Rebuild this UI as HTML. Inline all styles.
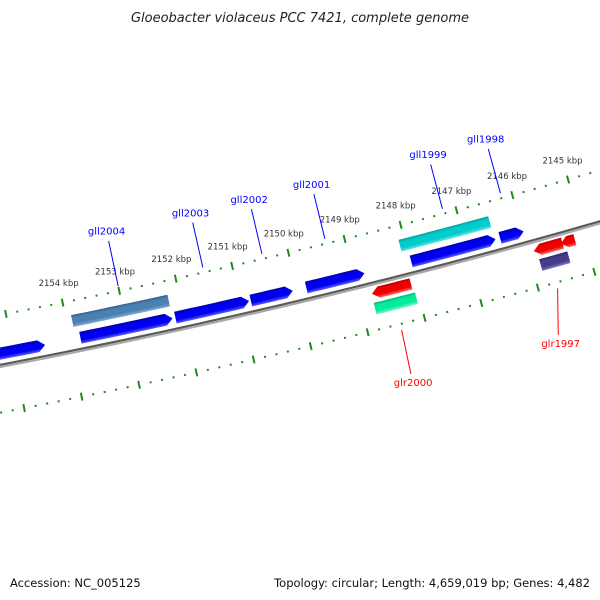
<!DOCTYPE html>
<html><head><meta charset="utf-8"><style>
html,body{margin:0;padding:0;background:#fff;}
svg{display:block;font-family:"DejaVu Sans","Liberation Sans",sans-serif;}
</style></head><body>
<svg id="map" width="600" height="600" viewBox="0 0 600 600" xmlns="http://www.w3.org/2000/svg">
<defs id="defs"></defs>
<rect width="600" height="600" fill="#fff"/>
<text x="300" y="22" text-anchor="middle" font-size="13" font-style="italic" fill="#222">Gloeobacter violaceus PCC 7421, complete genome</text>
<text x="10" y="587" font-size="11.5" fill="#111">Accession: NC_005125</text>
<text x="590" y="587" text-anchor="end" font-size="11.5" fill="#111">Topology: circular; Length: 4,659,019 bp; Genes: 4,482</text>
<g id="plot"></g>
</svg>
<script>
// ---- data ----
const fwdStart = [2156.5, 2153.82, 2152.15, 2150.82, 2149.84, 2147.98, 2146.40];
const fwdEnd   = [2154.44, 2152.20, 2150.85, 2150.08, 2148.81, 2146.48, 2145.98];
const outerFwdStart = [2153.9, 2148.1];
const outerFwdEnd   = [2152.2, 2146.5];
const outerFwdColor = ['steel', 'cyan'];
const revStart = [2148.08, 2145.39, 2145.17];
const revEnd   = [2148.77, 2145.90, 2145.42];
const outerRevStart = [2148.05, 2145.35];
const outerRevEnd   = [2148.78, 2145.85];
const outerRevColor = ['green', 'purple'];
const fwdLabels = ['gll2004', 'gll2003', 'gll2002', 'gll2001', 'gll1999', 'gll1998'];
const fwdLabelKbp = [2153.0, 2151.5, 2150.45, 2149.33, 2147.23, 2146.19];
const revLabels = ['glr2000', 'glr1997'];
const revLabelKbp = [2148.43, 2145.68];
const revLabelTextKbp = [2148.46, 2145.88];
const tickLabels = [2145, 2146, 2147, 2148, 2149, 2150, 2151, 2152, 2153, 2154];
const tickMin = 2143.0, tickMax = 2157.0;

// ---- geometry ----
const CX = -1267, CY = -6256;
const PHI0 = 166.56, DEG_PER_KBP = 0.495;
function pt(k, r) {
  const p = (PHI0 + DEG_PER_KBP * (k - 2150)) * Math.PI / 180;
  return [CX + r * Math.sin(p), CY - r * Math.cos(p)];
}
const R_BACK = 6742, R_TOP_TICK = 6692, R_BOT_TICK = 6788;
const PAL = {
  blue:   ['#0000a8', '#0000ee', '#6060ff'],
  steel:  ['#2d5d8c', '#4a80b2', '#86afd2'],
  cyan:   ['#009d9d', '#00cccc', '#70e4e4'],
  red:    ['#b80000', '#f00000', '#ff7070'],
  green:  ['#00b873', '#00ec98', '#80f7c8'],
  purple: ['#2b2566', '#463c8c', '#8078b8']
};
const NS = 'http://www.w3.org/2000/svg';
const plot = document.getElementById('plot');
const defs = document.getElementById('defs');
function mk(tag, attrs, parent) {
  const e = document.createElementNS(NS, tag);
  for (const a in attrs) e.setAttribute(a, attrs[a]);
  (parent || plot).appendChild(e);
  return e;
}
function arcPts(k1, k2, r, n) {
  const out = [];
  for (let i = 0; i <= n; i++) out.push(pt(k1 + (k2 - k1) * i / n, r));
  return out;
}
function ptsStr(a) { return a.map(p => p[0].toFixed(2) + ',' + p[1].toFixed(2)).join(' '); }

// backbone
let bb1 = mk('polyline', {points: ptsStr(arcPts(tickMax, tickMin, R_BACK - 1, 60)), fill: 'none', stroke: '#5a5a5a', 'stroke-width': 2.2});


let bb2 = mk('polyline', {points: ptsStr(arcPts(tickMax, tickMin, R_BACK + 1.2, 60)), fill: 'none', stroke: '#a8a8a8', 'stroke-width': 2});



// ticks
let gid = 0;
function ticks(r, row) {
  const n = Math.round((tickMax - tickMin) / 0.2);
  for (let i = 0; i <= n; i++) {
    const k = tickMin + i * 0.2;
    const major = Math.abs(k - Math.round(k)) < 1e-6;
    const len = major ? 4 : 1;
    const a = pt(k, r - len), b = pt(k, r + len);
    const t = mk('line', {x1: a[0], y1: a[1], x2: b[0], y2: b[1], stroke: '#1f8a1f', 'stroke-width': 2});
    
    
  }
}
ticks(R_TOP_TICK, 'outer');
ticks(R_BOT_TICK, 'inner');
tickLabels.forEach(k => {
  const p = pt(k, 6672);
  const t = mk('text', {x: p[0], y: p[1] + 3, 'text-anchor': 'middle', 'font-size': 8.5, fill: '#333'});
  t.textContent = k + ' kbp';
  
  
});

// features
function feature(k1, k2, r1, r2, col, arrow, name) {
  // k1: tail, k2: head (arrow tip) ; arrow: true/false
  const c = PAL[col];
  const id = 'g' + (gid++);
  const km = (k1 + k2) / 2;
  const a = pt(km, r1), b = pt(km, r2);
  const g = mk('linearGradient', {id: id, gradientUnits: 'userSpaceOnUse', x1: a[0], y1: a[1], x2: b[0], y2: b[1]}, defs);
  [[0, c[0]], [0.22, c[1]], [0.7, c[1]], [1, c[2]]].forEach(s => mk('stop', {offset: s[0], 'stop-color': s[1]}, g));
  let pts;
  if (arrow) {
    const head = 0.12 * Math.sign(k1 - k2);
    const kb = Math.abs(k2 - k1) > 0.15 ? k2 + head : k2 + head * 0.6;
    pts = arcPts(k1, kb, r1, 8).concat([pt(k2, (r1 + r2) / 2)]).concat(arcPts(kb, k1, r2, 8));
  } else {
    pts = arcPts(k1, k2, r1, 8).concat(arcPts(k2, k1, r2, 8));
  }
  const e = mk('polygon', {points: ptsStr(pts), fill: 'url(#' + id + ')'});
  
  
}
fwdStart.forEach((s, i) => feature(s, fwdEnd[i], 6724, 6736, 'blue', true, 'forward-gene-' + i));
outerFwdStart.forEach((s, i) => feature(s, outerFwdEnd[i], 6706, 6718, outerFwdColor[i], false, 'forward-feature-' + i));
revStart.forEach((s, i) => feature(s, revEnd[i], 6746, 6757.5, 'red', true, 'reverse-gene-' + i));
outerRevStart.forEach((s, i) => feature(s, outerRevEnd[i], 6761, 6773, outerRevColor[i], false, 'reverse-feature-' + i));

// labels
fwdLabels.forEach((lab, i) => {
  const k = fwdLabelKbp[i];
  const a = pt(k, 6641), b = pt(k, 6687);
  const l = mk('line', {x1: a[0], y1: a[1], x2: b[0], y2: b[1], stroke: '#0000ff', 'stroke-width': 1});
  
  
  const p = pt(k, 6631);
  const t = mk('text', {x: p[0], y: p[1] + 3.5, 'text-anchor': 'middle', 'font-size': 10, fill: '#0000ff'});
  t.textContent = lab;
  
  
});
revLabels.forEach((lab, i) => {
  const a = pt(revLabelKbp[i], 6794), b = pt(revLabelTextKbp[i], 6839);
  const l = mk('line', {x1: a[0], y1: a[1], x2: b[0], y2: b[1], stroke: '#ff0000', 'stroke-width': 1});
  
  
  const p = pt(revLabelTextKbp[i], 6848);
  const t = mk('text', {x: p[0], y: p[1] + 3.5, 'text-anchor': 'middle', 'font-size': 10, fill: '#ff0000'});
  t.textContent = lab;
  
  
});
</script>
</body></html>
